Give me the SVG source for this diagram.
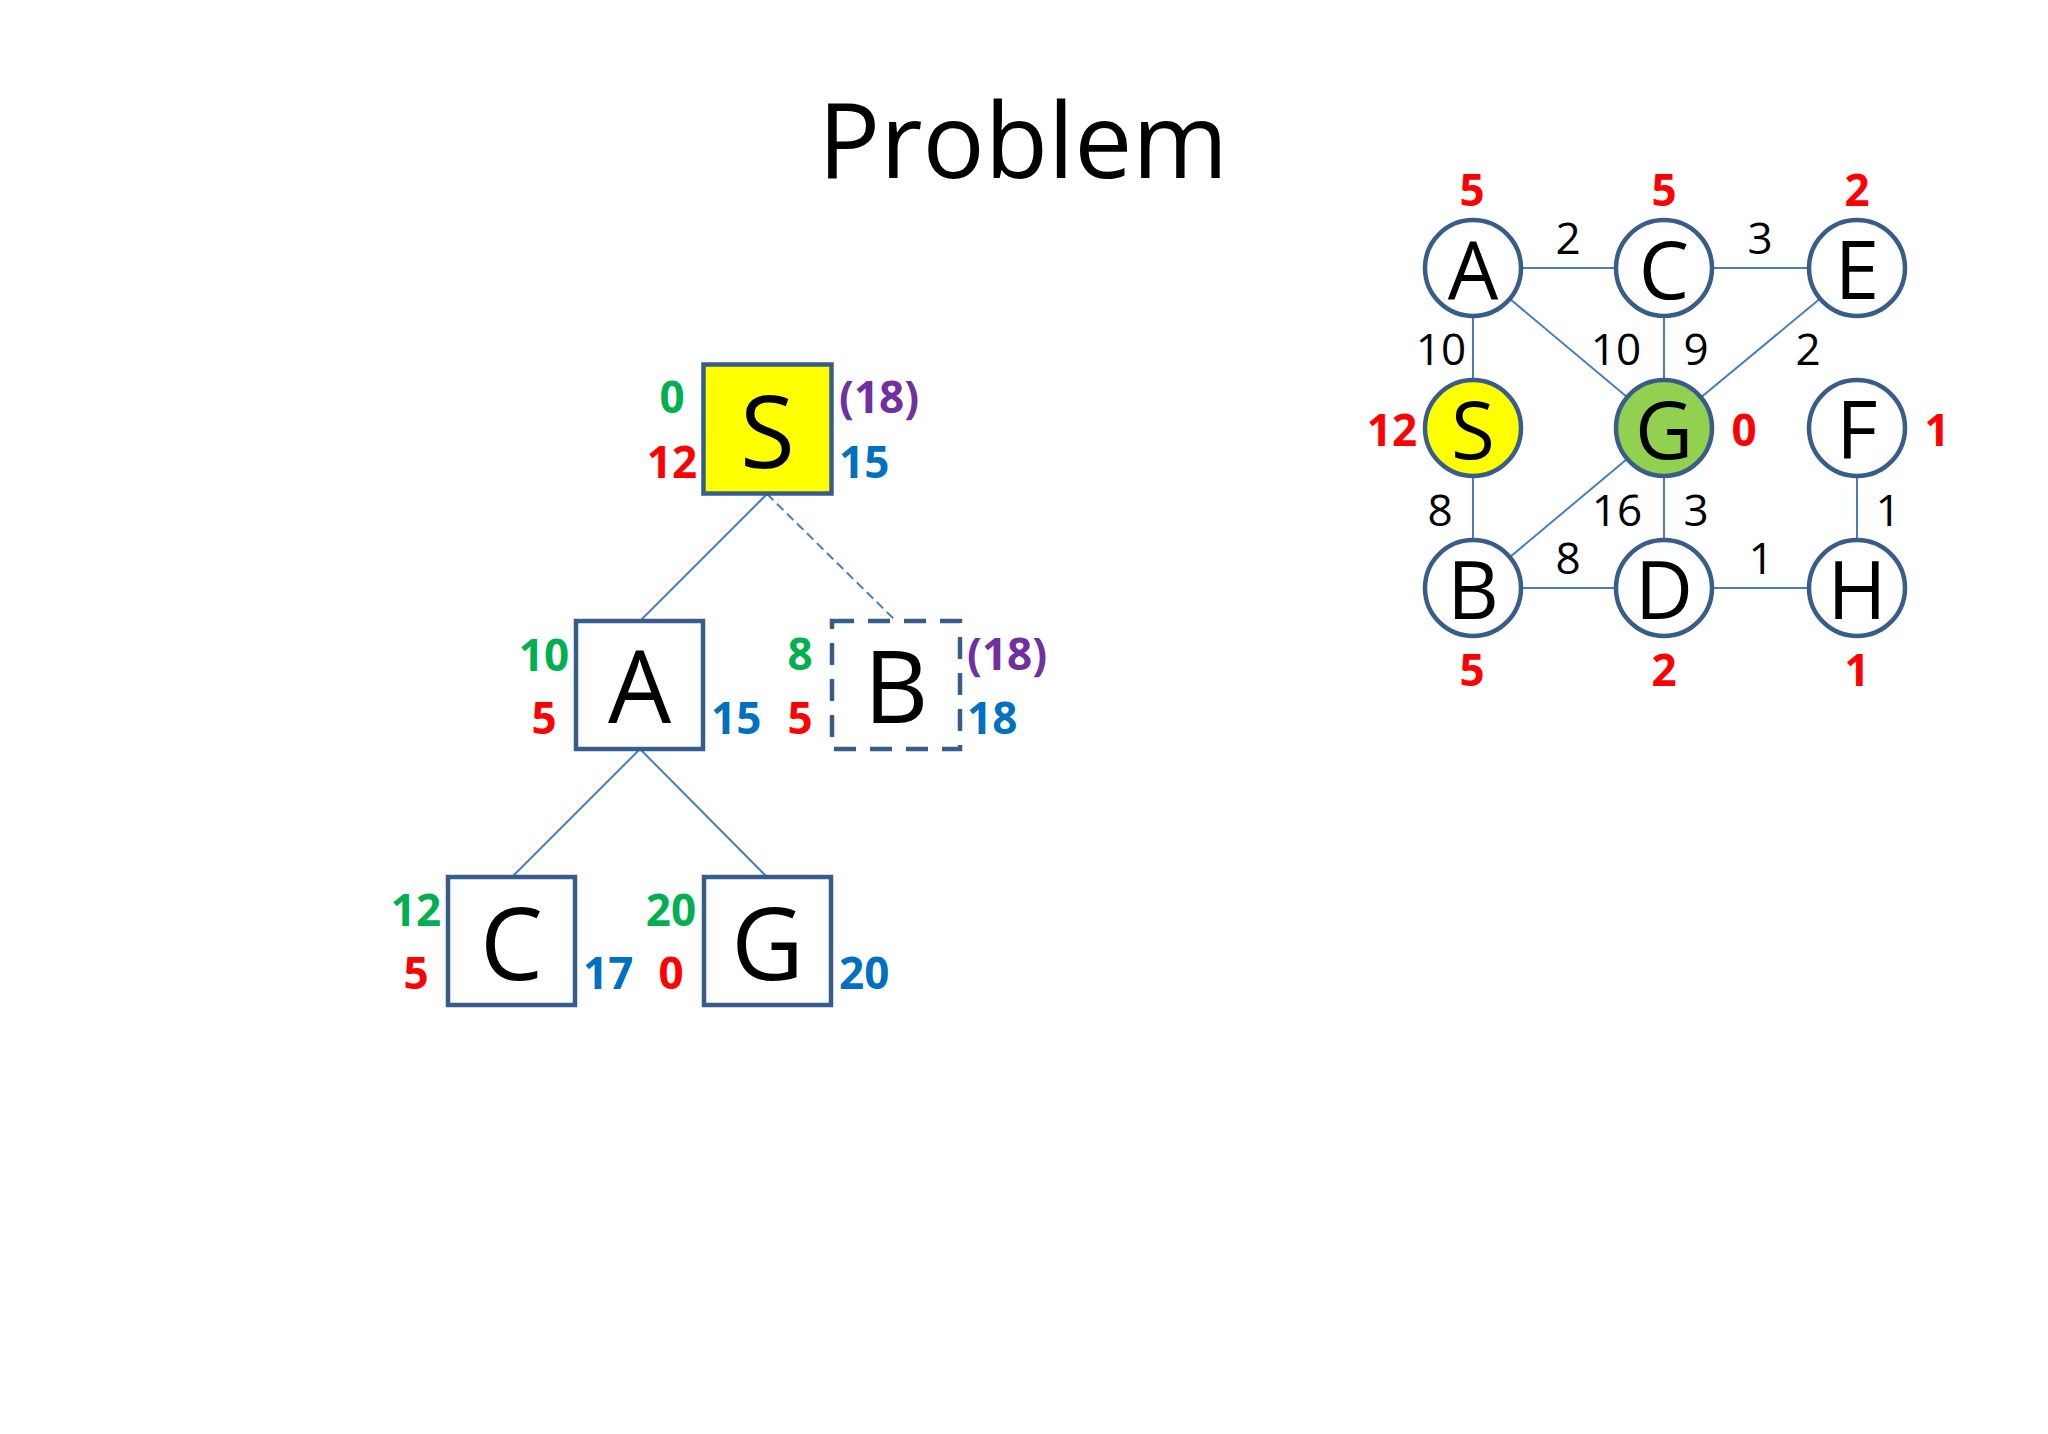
<svg xmlns="http://www.w3.org/2000/svg" width="2048" height="1434" viewBox="0 0 2048 1434">
<style>
.title{font-family:"Open Sans","Liberation Sans",sans-serif;font-size:104px;fill:#000}
.box{fill:#fff;stroke:#385d8a;stroke-width:4.5}
.dashed{stroke-dasharray:22 14}
.big{font-family:"Open Sans","Liberation Sans",sans-serif;font-size:100px;fill:#000;text-anchor:middle}
.mid{font-family:"Open Sans","Liberation Sans",sans-serif;font-size:80px;fill:#000;text-anchor:middle}
.num{font-family:"Open Sans","Liberation Sans",sans-serif;font-size:44px;font-weight:bold}
.gnum{font-family:"Open Sans","Liberation Sans",sans-serif;font-size:44px;font-weight:bold;fill:#ff0000;text-anchor:middle}
.w{font-family:"Open Sans","Liberation Sans",sans-serif;font-size:44px;fill:#000;text-anchor:middle}
.g{fill:#00b050;text-anchor:middle}
.r{fill:#ff0000;text-anchor:middle}
.b{fill:#0070c0}
.p{fill:#7030a0}
.edge{stroke:#4a7ebb;stroke-width:2;fill:none}
.circ{fill:#fff;stroke:#385d8a;stroke-width:4.5}
</style>
<rect width="2048" height="1434" fill="#fff"/>
<text class="title" x="818" y="178" textLength="410" lengthAdjust="spacingAndGlyphs">Problem</text>

<g id="tree-connectors">
<line class="edge" x1="767" y1="494" x2="640" y2="621"/>
<line class="edge" x1="767" y1="494" x2="896" y2="621" stroke-dasharray="9 5"/>
<line class="edge" x1="640" y1="749" x2="512" y2="877"/>
<line class="edge" x1="640" y1="749" x2="767" y2="877"/>
</g>

<g id="tree-S">
<rect class="box" x="703.5" y="364.5" width="128" height="129" style="fill:#ffff00"/>
<text class="big" x="767.5" y="468">S</text>
<text class="num g" x="672" y="413">0</text>
<text class="num r" x="672" y="478">12</text>
<text class="num p" x="839" y="413">(18)</text>
<text class="num b" x="839" y="478">15</text>
</g>
<g id="tree-A">
<rect class="box" x="576" y="621" width="127" height="128"/>
<text class="big" x="639.5" y="723">A</text>
<text class="num g" x="544" y="671">10</text>
<text class="num r" x="544" y="734">5</text>
<text class="num b" x="711" y="734">15</text>
</g>
<g id="tree-B">
<rect class="box dashed" x="832" y="621" width="128" height="128"/>
<text class="big" x="896" y="723">B</text>
<text class="num g" x="800" y="670">8</text>
<text class="num r" x="800" y="734">5</text>
<text class="num p" x="967" y="670">(18)</text>
<text class="num b" x="967" y="734">18</text>
</g>
<g id="tree-C">
<rect class="box" x="448" y="877" width="127" height="128"/>
<text class="big" x="511.5" y="980">C</text>
<text class="num g" x="416" y="926">12</text>
<text class="num r" x="416" y="989">5</text>
<text class="num b" x="583" y="989">17</text>
</g>
<g id="tree-G">
<rect class="box" x="704" y="877" width="127" height="128"/>
<text class="big" x="767.5" y="980">G</text>
<text class="num g" x="671" y="926">20</text>
<text class="num r" x="671" y="989">0</text>
<text class="num b" x="839" y="989">20</text>
</g>

<g id="graph-connectors">
<line class="edge" x1="1473" y1="268" x2="1664" y2="268"/>
<line class="edge" x1="1664" y1="268" x2="1857" y2="268"/>
<line class="edge" x1="1473" y1="268" x2="1473" y2="428"/>
<line class="edge" x1="1473" y1="268" x2="1664" y2="428"/>
<line class="edge" x1="1664" y1="268" x2="1664" y2="428"/>
<line class="edge" x1="1857" y1="268" x2="1664" y2="428"/>
<line class="edge" x1="1473" y1="428" x2="1473" y2="588"/>
<line class="edge" x1="1473" y1="588" x2="1664" y2="428"/>
<line class="edge" x1="1664" y1="428" x2="1664" y2="588"/>
<line class="edge" x1="1473" y1="588" x2="1664" y2="588"/>
<line class="edge" x1="1664" y1="588" x2="1857" y2="588"/>
<line class="edge" x1="1857" y1="428" x2="1857" y2="588"/>
</g>
<g id="edge-labels">
<text class="w" x="1568" y="254">2</text>
<text class="w" x="1760" y="254">3</text>
<text class="w" x="1441" y="365">10</text>
<text class="w" x="1616" y="365">10</text>
<text class="w" x="1696" y="365">9</text>
<text class="w" x="1808" y="365">2</text>
<text class="w" x="1440" y="526">8</text>
<text class="w" x="1617" y="526">16</text>
<text class="w" x="1696" y="526">3</text>
<text class="w" x="1888" y="526">1</text>
<text class="w" x="1568" y="574">8</text>
<text class="w" x="1761" y="574">1</text>
</g>

<g id="graph-A"><circle class="circ" cx="1473" cy="268" r="48"/><text class="mid" x="1473" y="299">A</text><text class="gnum" x="1472" y="206">5</text></g>
<g id="graph-C"><circle class="circ" cx="1664" cy="268" r="48"/><text class="mid" x="1664" y="299">C</text><text class="gnum" x="1664" y="206">5</text></g>
<g id="graph-E"><circle class="circ" cx="1857" cy="268" r="48"/><text class="mid" x="1857" y="299">E</text><text class="gnum" x="1857" y="206">2</text></g>
<g id="graph-S"><circle class="circ" cx="1473" cy="428" r="48" style="fill:#ffff00"/><text class="mid" x="1473" y="459">S</text><text class="gnum" x="1392" y="446">12</text></g>
<g id="graph-G"><circle class="circ" cx="1664" cy="428" r="48" style="fill:#92d050"/><text class="mid" x="1664" y="459">G</text><text class="gnum" x="1744" y="446">0</text></g>
<g id="graph-F"><circle class="circ" cx="1857" cy="428" r="48"/><text class="mid" x="1857" y="459">F</text><text class="gnum" x="1937" y="446">1</text></g>
<g id="graph-B"><circle class="circ" cx="1473" cy="588" r="48"/><text class="mid" x="1473" y="619">B</text><text class="gnum" x="1472" y="686">5</text></g>
<g id="graph-D"><circle class="circ" cx="1664" cy="588" r="48"/><text class="mid" x="1664" y="619">D</text><text class="gnum" x="1664" y="686">2</text></g>
<g id="graph-H"><circle class="circ" cx="1857" cy="588" r="48"/><text class="mid" x="1857" y="619">H</text><text class="gnum" x="1857" y="686">1</text></g>
</svg>
